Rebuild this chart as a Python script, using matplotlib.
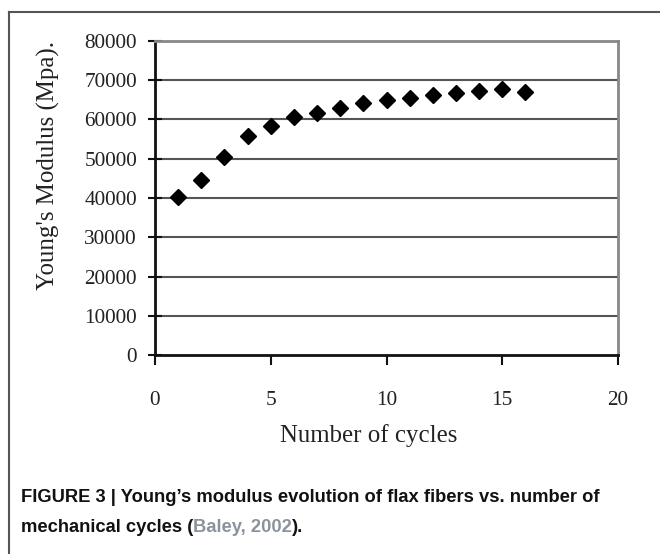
import matplotlib
matplotlib.use("Agg")
import matplotlib.pyplot as plt
from matplotlib.lines import Line2D

cycles = [1, 2, 3, 4, 5, 6, 7, 8, 9, 10, 11, 12, 13, 14, 15, 16]
modulus = [40200, 44700, 50400, 55900, 58400, 60700, 61700, 63000,
           64200, 64900, 65400, 66200, 66800, 67300, 67700, 67100]
xticks = [0, 5, 10, 15, 20]
yticks = [0, 10000, 20000, 30000, 40000, 50000, 60000, 70000, 80000]

W, H = 660, 554
fig = plt.figure(figsize=(W / 100, H / 100), dpi=100)
fig.patch.set_facecolor("white")

def fx(px):
    return px / W

def fy(py):
    return 1 - py / H

ax = fig.add_axes([fx(155), fy(355), fx(618) - fx(155), fy(41) - fy(355)])
ax.set_xlim(0, 20)
ax.set_ylim(0, 80000)
ax.set_xticks(xticks)
ax.set_yticks(yticks)
ax.set_xticklabels([str(v) for v in xticks])
ax.set_yticklabels([str(v) for v in yticks])

serif = ["Liberation Serif", "DejaVu Serif"]
for lab in ax.get_xticklabels() + ax.get_yticklabels():
    lab.set_fontfamily(serif)
    lab.set_fontsize(15.3)
    lab.set_color("#222222")

ax.tick_params(axis="y", direction="inout", length=10, width=1.5, pad=8, color="#111111")
ax.tick_params(axis="x", direction="out", length=7, width=1.5, pad=19, color="#111111")

for y in yticks[1:]:
    ax.axhline(y, color="#555555", lw=1.5, zorder=1)

ax.spines["left"].set_color("#111111")
ax.spines["left"].set_linewidth(2)
ax.spines["bottom"].set_color("#111111")
ax.spines["bottom"].set_linewidth(2)
ax.spines["right"].set_color("#888888")
ax.spines["right"].set_linewidth(2)
ax.spines["top"].set_color("#888888")
ax.spines["top"].set_linewidth(2)

ax.plot(cycles, modulus, linestyle="none", marker="D", markersize=8,
        color="black", zorder=3, clip_on=False)

fig.text(fx(369), fy(436), "Number of cycles", fontfamily=serif, fontsize=17.9,
         color="#222222", ha="center", va="center")
fig.text(fx(48), fy(166), "Young's Modulus (Mpa).", rotation=90, fontfamily=serif,
         fontsize=17.9, color="#222222", ha="center", va="center")

# outer border (top and left)
fig.add_artist(Line2D([fx(8.5), 1], [fy(11.5), fy(11.5)], color="#555555", lw=1.5))
fig.add_artist(Line2D([fx(8.5), fx(8.5)], [fy(11.5), 0], color="#555555", lw=1.5))

# caption
cap_font = dict(fontfamily=["Liberation Sans", "DejaVu Sans"], fontsize=13.2,
                fontweight="bold", va="center", ha="left")
fig.text(fx(21), fy(498), "FIGURE 3 | Young\u2019s modulus evolution of flax fibers vs. number of",
         color="#111111", **cap_font)
fig.canvas.draw()
r = fig.canvas.get_renderer()
t1 = fig.text(fx(21), fy(527), "mechanical cycles (", color="#111111", **cap_font)
bb = t1.get_window_extent(r)
t2 = fig.text(bb.x1 / W, fy(527), "Baley, 2002", color="#8c929c", **cap_font)
bb2 = t2.get_window_extent(r)
fig.text(bb2.x1 / W, fy(527), ").", color="#111111", **cap_font)

fig.savefig("out.png", dpi=100, facecolor="white")
